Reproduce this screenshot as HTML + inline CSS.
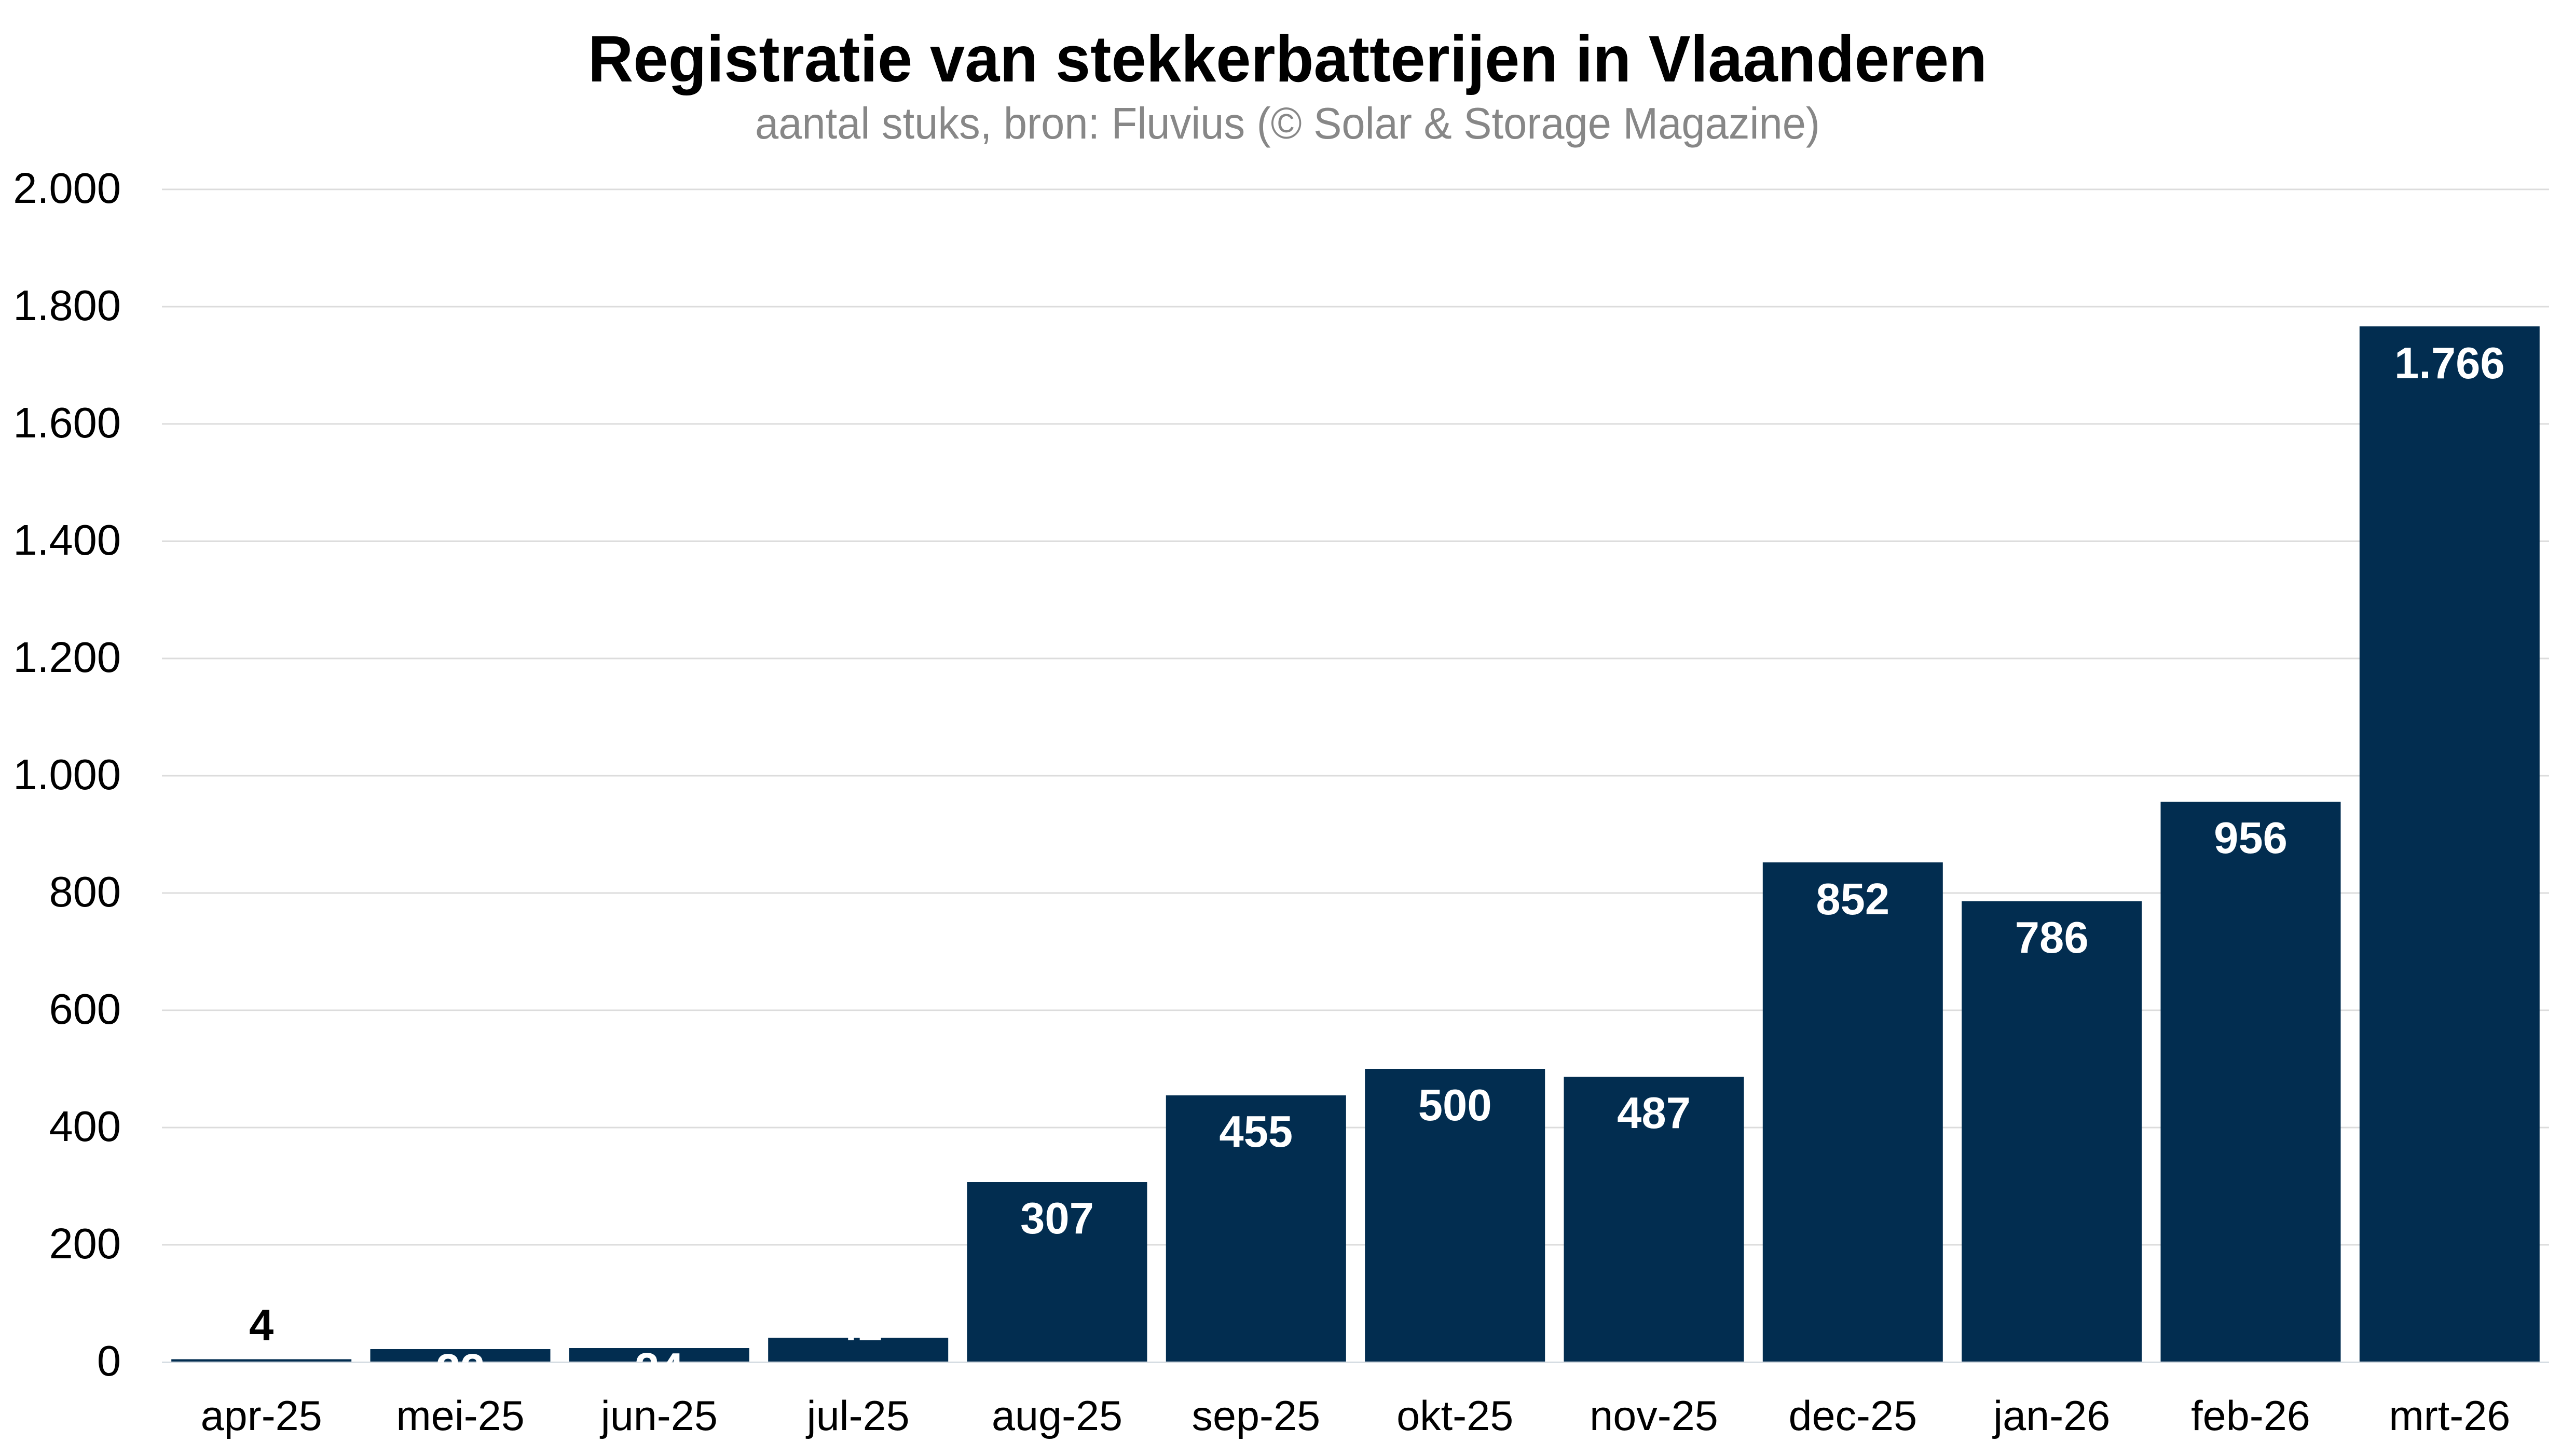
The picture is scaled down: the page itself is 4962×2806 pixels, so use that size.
<!DOCTYPE html>
<html>
<head>
<meta charset="utf-8">
<style>
  html, body { margin: 0; padding: 0; background: #ffffff; }
  svg { display: block; }
  text { font-family: "Liberation Sans", Arial, sans-serif; }
</style>
</head>
<body>
<svg xmlns="http://www.w3.org/2000/svg" width="4962" height="2806" viewBox="0 0 4962 2806">
  <rect x="0" y="0" width="4962" height="2806" fill="#ffffff"/>

  <!-- Title -->
  <text x="2481" y="157" text-anchor="middle" font-size="126" font-weight="bold" fill="#000000" textLength="2696" lengthAdjust="spacingAndGlyphs">Registratie van stekkerbatterijen in Vlaanderen</text>
  <!-- Subtitle -->
  <text x="2481" y="267" text-anchor="middle" font-size="85" fill="#878787" textLength="2052" lengthAdjust="spacingAndGlyphs">aantal stuks, bron: Fluvius (© Solar &amp; Storage Magazine)</text>

  <!-- Gridlines -->
  <g stroke="#dcdcdc" stroke-width="3">
    <line x1="312" y1="365" x2="4912" y2="365"/>
    <line x1="312" y1="591" x2="4912" y2="591"/>
    <line x1="312" y1="817" x2="4912" y2="817"/>
    <line x1="312" y1="1043" x2="4912" y2="1043"/>
    <line x1="312" y1="1269" x2="4912" y2="1269"/>
    <line x1="312" y1="1495" x2="4912" y2="1495"/>
    <line x1="312" y1="1721" x2="4912" y2="1721"/>
    <line x1="312" y1="1947" x2="4912" y2="1947"/>
    <line x1="312" y1="2173" x2="4912" y2="2173"/>
    <line x1="312" y1="2399" x2="4912" y2="2399"/>
  </g>

  <!-- Y axis labels -->
  <g font-size="83" fill="#000000" text-anchor="end">
    <text x="233" y="391">2.000</text>
    <text x="233" y="617">1.800</text>
    <text x="233" y="843">1.600</text>
    <text x="233" y="1069">1.400</text>
    <text x="233" y="1295">1.200</text>
    <text x="233" y="1521">1.000</text>
    <text x="233" y="1747">800</text>
    <text x="233" y="1973">600</text>
    <text x="233" y="2199">400</text>
    <text x="233" y="2425">200</text>
    <text x="233" y="2651">0</text>
  </g>

  <!-- Bars -->
  <g fill="#022d50">
    <rect x="330.2" y="2619.5" width="347" height="4.5"/>
    <rect x="713.5" y="2600" width="347" height="24"/>
    <rect x="1096.8" y="2598" width="347" height="26"/>
    <rect x="1480.2" y="2578" width="347" height="46"/>
    <rect x="1863.5" y="2278" width="347" height="346"/>
    <rect x="2246.8" y="2111" width="347" height="513"/>
    <rect x="2630.2" y="2060" width="347" height="564"/>
    <rect x="3013.5" y="2075" width="347" height="549"/>
    <rect x="3396.8" y="1662" width="347" height="962"/>
    <rect x="3780.2" y="1737" width="347" height="887"/>
    <rect x="4163.5" y="1545" width="347" height="1079"/>
    <rect x="4546.8" y="629" width="347" height="1995"/>
  </g>

  <!-- Zero line -->
  <line x1="312" y1="2625.5" x2="4912" y2="2625.5" stroke="#d6dde3" stroke-width="3"/>

  <!-- Value labels -->
  <g font-size="85" font-weight="bold" text-anchor="middle">
    <text x="503.7" y="2583" fill="#000000">4</text>
    <text x="887" y="2669" fill="#ffffff">22</text>
    <text x="1270.3" y="2667" fill="#ffffff">24</text>
    <text x="1653.7" y="2583" fill="#ffffff">42</text>
    <text x="2037" y="2377" fill="#ffffff">307</text>
    <text x="2420.3" y="2210" fill="#ffffff">455</text>
    <text x="2803.7" y="2159" fill="#ffffff">500</text>
    <text x="3187" y="2174" fill="#ffffff">487</text>
    <text x="3570.3" y="1762" fill="#ffffff">852</text>
    <text x="3953.7" y="1836" fill="#ffffff">786</text>
    <text x="4337" y="1644" fill="#ffffff">956</text>
    <text x="4720.3" y="729" fill="#ffffff">1.766</text>
  </g>

  <!-- X axis labels -->
  <g font-size="81" fill="#000000" text-anchor="middle">
    <text x="503.7" y="2756">apr-25</text>
    <text x="887" y="2756">mei-25</text>
    <text x="1270.3" y="2756">jun-25</text>
    <text x="1653.7" y="2756">jul-25</text>
    <text x="2037" y="2756">aug-25</text>
    <text x="2420.3" y="2756">sep-25</text>
    <text x="2803.7" y="2756">okt-25</text>
    <text x="3187" y="2756">nov-25</text>
    <text x="3570.3" y="2756">dec-25</text>
    <text x="3953.7" y="2756">jan-26</text>
    <text x="4337" y="2756">feb-26</text>
    <text x="4720.3" y="2756">mrt-26</text>
  </g>
</svg>
</body>
</html>
